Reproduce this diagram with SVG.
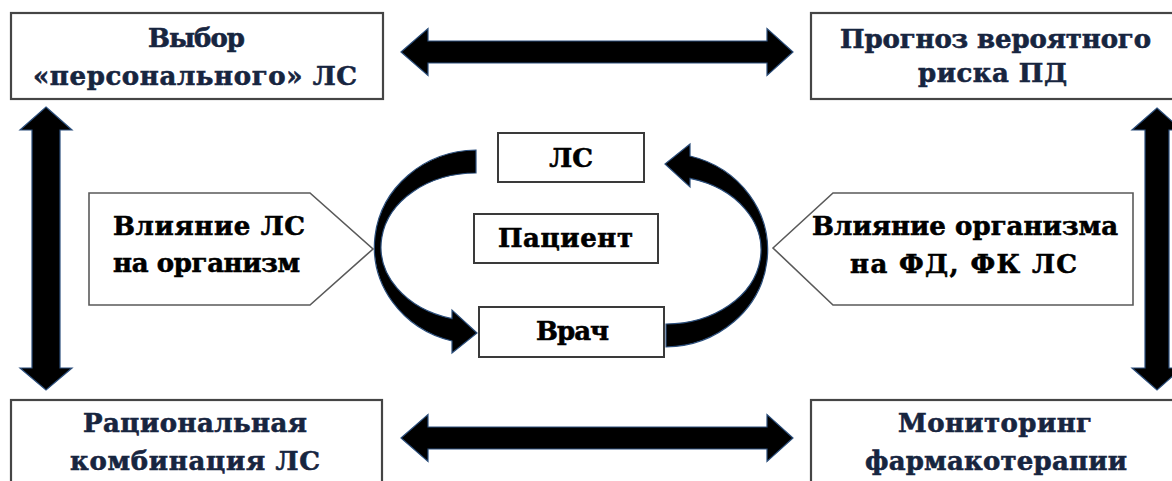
<svg xmlns="http://www.w3.org/2000/svg" width="1172" height="481" viewBox="0 0 1172 481">
<style>
.box{fill:#fff;stroke:#454545;stroke-width:2.2}
.cbox{fill:#fff;stroke:#3a3a3a;stroke-width:2}
.pent{fill:#fff;stroke:#5a5a5a;stroke-width:1.6}
.t{font-family:"DejaVu Serif","Liberation Serif",serif;font-weight:bold;font-size:26px;stroke-width:0.6}
.navy{fill:#17253f;stroke:#17253f}
.blk{fill:#000;stroke:#000}
.arr{fill:#000;stroke:#2c4f7c;stroke-width:1.2;stroke-linejoin:miter}
</style>
<defs>
<path id="curve" d="M476,150 A103,97 0 0 0 452,341 L452,353 L477,333 L452,310 L452,318.6 A95,74 0 0 1 476,173 Z"/>
</defs>
<rect width="1172" height="481" fill="#fff"/>

<g id="connectors">
<path class="arr" d="M401,52 L428,28.5 L428,41 L767,41 L767,28.5 L793,52 L767,75.5 L767,63 L428,63 L428,75.5 Z"/>
<path class="arr" d="M401,438 L428,414.5 L428,427 L767,427 L767,414.5 L793,438 L767,461.5 L767,449 L428,449 L428,461.5 Z"/>
<path class="arr" d="M46,107 L72,130 L60,130 L60,368 L72,368 L46,390 L20,368 L32,368 L32,130 L20,130 Z"/>
<path class="arr" d="M1157,108 L1182,130 L1169,130 L1169,368 L1182,368 L1157,390 L1132,368 L1145,368 L1145,130 L1132,130 Z"/>
<use href="#curve" class="arr"/>
<use href="#curve" class="arr" transform="rotate(180 571 248.5)"/>
</g>

<g id="node-choice">
<rect class="box" x="11" y="13" width="372" height="86"/>
<text class="t navy" x="148" y="47" textLength="97" lengthAdjust="spacing">Выбор</text>
<text class="t navy" x="33" y="85" textLength="324" lengthAdjust="spacing">«персонального» ЛС</text>
</g>

<g id="node-forecast">
<rect class="box" x="811" y="13" width="372" height="86"/>
<text class="t navy" x="840" y="48" textLength="311" lengthAdjust="spacing">Прогноз вероятного</text>
<text class="t navy" x="918" y="82" textLength="149" lengthAdjust="spacing">риска ПД</text>
</g>

<g id="node-rational">
<rect class="box" x="11" y="400" width="371" height="95"/>
<text class="t navy" x="83" y="432" textLength="224" lengthAdjust="spacing">Рациональная</text>
<text class="t navy" x="70" y="470" textLength="250" lengthAdjust="spacing">комбинация ЛС</text>
</g>

<g id="node-monitoring">
<rect class="box" x="811" y="400" width="372" height="95"/>
<text class="t navy" x="898" y="432" textLength="194" lengthAdjust="spacing">Мониторинг</text>
<text class="t navy" x="865" y="470" textLength="262" lengthAdjust="spacing">фармакотерапии</text>
</g>

<g id="node-drug-effect">
<path class="pent" d="M89,193 L310,193 L373,249 L310,305 L89,305 Z"/>
<text class="t blk" x="113" y="235" textLength="192" lengthAdjust="spacing">Влияние ЛС</text>
<text class="t blk" x="113" y="272" textLength="187" lengthAdjust="spacing">на организм</text>
</g>

<g id="node-body-effect">
<path class="pent" d="M773,248 L833,193 L1133,193 L1133,305 L833,305 Z"/>
<text class="t blk" x="812" y="235" textLength="306" lengthAdjust="spacing">Влияние организма</text>
<text class="t blk" x="850" y="273" textLength="227" lengthAdjust="spacing">на ФД, ФК ЛС</text>
</g>

<g id="node-ls">
<rect class="cbox" x="498" y="133" width="146" height="49"/>
<text class="t blk" x="571" y="167" text-anchor="middle">ЛС</text>
</g>

<g id="node-patient">
<rect class="cbox" x="474" y="214" width="184" height="49"/>
<text class="t blk" x="498" y="247" textLength="135" lengthAdjust="spacing">Пациент</text>
</g>

<g id="node-doctor">
<rect class="cbox" x="479" y="307" width="185" height="50"/>
<text class="t blk" x="536" y="340" textLength="73" lengthAdjust="spacing">Врач</text>
</g>
</svg>
